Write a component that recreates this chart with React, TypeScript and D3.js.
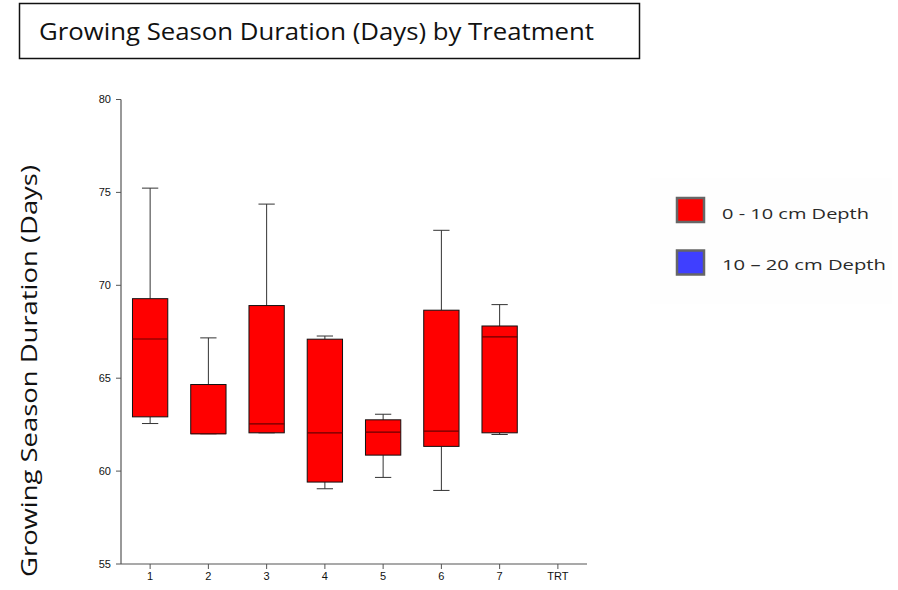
import React from "react";
import * as d3 from "d3";

const categories = ["1", "2", "3", "4", "5", "6", "7", "TRT"];
const whiskerLow = [62.56, 62.01, 62.06, 59.05, 59.66, 58.96, 61.97];
const q1 = [62.92, 62.01, 62.06, 59.41, 60.86, 61.33, 62.06];
const median = [67.11, 62.01, 62.54, 62.06, 62.1, 62.15, 67.22];
const q3 = [69.28, 64.66, 68.91, 67.1, 62.76, 68.66, 67.81];
const whiskerHigh = [75.23, 67.17, 74.37, 67.27, 63.06, 72.96, 68.96];
const yTicks = [55, 60, 65, 70, 75, 80];
const legendLabels = ["0 - 10 cm Depth", "10 \u2013 20 cm Depth"];
const legendColors = ["#ff0000", "#3f3fff"];

export default function App() {
  const W = 898;
  const H = 590;
  const x = d3.scaleBand<string>().domain(categories).range([121, 587]).padding(0);
  const y = d3.scaleLinear().domain([55, 80]).range([564, 99.5]);
  const bw = x.bandwidth();
  const boxW = bw * 0.606;
  const capW = bw * 0.28;
  const axisColor = "#555";

  return (
    <svg
      width={W}
      height={H}
      style={{ position: "absolute", left: 0, top: 0, background: "#fff" }}
    >
      {/* title box */}
      <rect x={19.5} y={3.5} width={620} height={55} fill="#fff" stroke="#111" strokeWidth={1.5} />
      <text
        x={39}
        y={40}
        fontFamily="'Open Sans', 'Noto Sans', sans-serif"
        fontSize={24}
        fill="#111"
        textLength={555}
        lengthAdjust="spacingAndGlyphs"
      >
        Growing Season Duration (Days) by Treatment
      </text>

      {/* y label */}
      <text
        transform={`translate(37,371) rotate(-90)`}
        textAnchor="middle"
        fontFamily="'Open Sans', 'Noto Sans', sans-serif"
        fontSize={22}
        fill="#111"
        textLength={412}
        lengthAdjust="spacingAndGlyphs"
      >
        Growing Season Duration (Days)
      </text>

      {/* axes */}
      <line x1={121} x2={121} y1={y(80)} y2={y(55)} stroke={axisColor} strokeWidth={1.2} />
      <line x1={121} x2={587} y1={y(55)} y2={y(55)} stroke={axisColor} strokeWidth={1.2} />
      {yTicks.map((t) => (
        <g key={t}>
          <line x1={116} x2={121} y1={y(t)} y2={y(t)} stroke={axisColor} strokeWidth={1} />
          <text
            x={111}
            y={y(t)}
            dy="0.35em"
            textAnchor="end"
            fontFamily="'Liberation Sans', Arial, sans-serif"
            fontSize={11}
            fill="#111"
          >
            {t}
          </text>
        </g>
      ))}
      {categories.map((c) => {
        const cx = (x(c) as number) + bw / 2;
        return (
          <g key={c}>
            <line x1={cx} x2={cx} y1={y(55)} y2={y(55) + 5} stroke={axisColor} strokeWidth={1} />
            <text
              x={cx}
              y={580}
              textAnchor="middle"
              fontFamily="'Liberation Sans', Arial, sans-serif"
              fontSize={11}
              fill="#111"
            >
              {c}
            </text>
          </g>
        );
      })}

      {/* boxes */}
      {q1.map((_, i) => {
        const c = categories[i];
        const cx = (x(c) as number) + bw / 2;
        return (
          <g key={c}>
            <line x1={cx} x2={cx} y1={y(whiskerHigh[i])} y2={y(q3[i])} stroke="#333" strokeWidth={1} />
            <line x1={cx} x2={cx} y1={y(q1[i])} y2={y(whiskerLow[i])} stroke="#333" strokeWidth={1} />
            <line x1={cx - capW / 2} x2={cx + capW / 2} y1={y(whiskerHigh[i])} y2={y(whiskerHigh[i])} stroke="#333" strokeWidth={1} />
            <line x1={cx - capW / 2} x2={cx + capW / 2} y1={y(whiskerLow[i])} y2={y(whiskerLow[i])} stroke="#333" strokeWidth={1} />
            <rect
              x={cx - boxW / 2}
              y={y(q3[i])}
              width={boxW}
              height={y(q1[i]) - y(q3[i])}
              fill="#ff0000"
              stroke="#111"
              strokeWidth={1}
            />
            <line x1={cx - boxW / 2} x2={cx + boxW / 2} y1={y(median[i])} y2={y(median[i])} stroke="#6a0000" strokeWidth={1.2} />
          </g>
        );
      })}

      {/* legend */}
      <rect x={650} y={178} width={242} height={126} fill="#fefefe" />
      {legendLabels.map((l, i) => (
        <g key={l}>
          <rect
            x={677}
            y={198 + i * 52.5}
            width={27}
            height={24}
            fill={legendColors[i]}
            stroke="#666"
            strokeWidth={2.5}
          />
          <text
            x={722}
            y={219 + i * 50.5}
            fontFamily="'Open Sans', 'Noto Sans', sans-serif"
            fontSize={15}
            fill="#2a2a2a"
            textLength={i === 0 ? 147 : 164}
            lengthAdjust="spacingAndGlyphs"
          >
            {l}
          </text>
        </g>
      ))}
    </svg>
  );
}
